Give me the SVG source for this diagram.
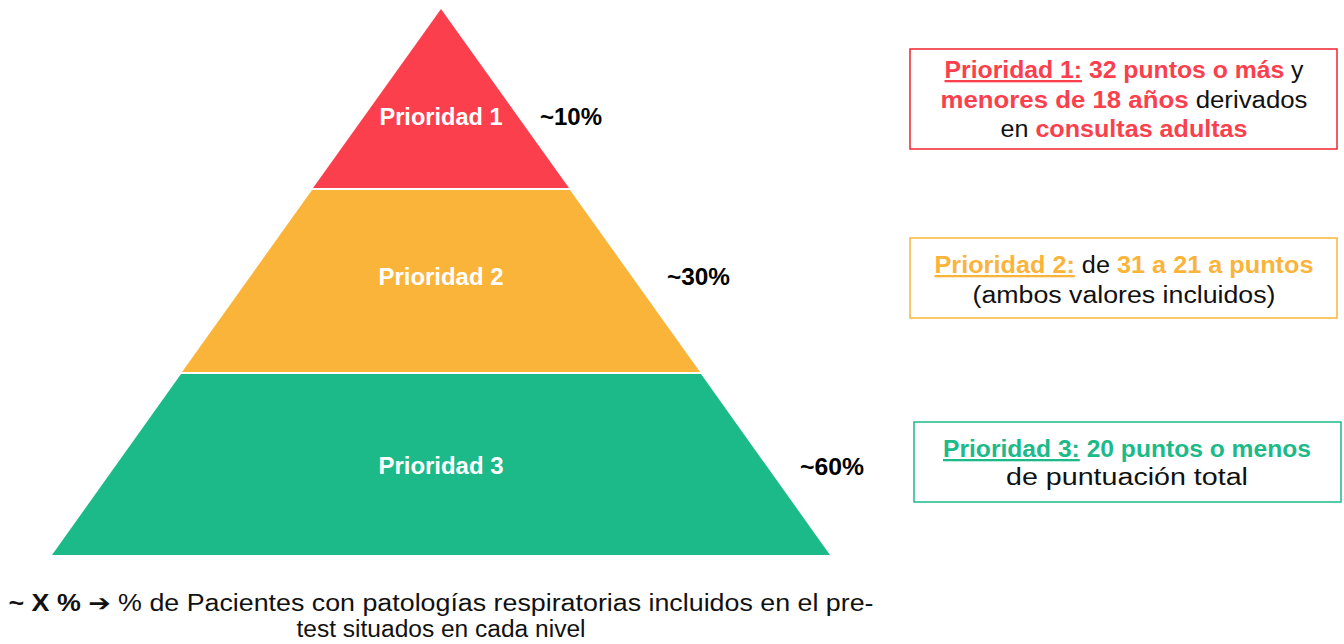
<svg xmlns="http://www.w3.org/2000/svg" width="1344" height="644" viewBox="0 0 1344 644">
<style>
text{font-family:"Liberation Sans",Arial,sans-serif;}
.lvl{fill:#fff;font-weight:bold;font-size:23px;text-anchor:middle;}
.pct{fill:#000;font-weight:bold;font-size:23px;}
.bt{font-size:23px;text-anchor:middle;fill:#111;}
.b{font-weight:bold;}
.u{text-decoration:underline;}
.red{fill:#FC3F4D;}
.org{fill:#FBB43A;}
.grn{fill:#1BBA88;}
.cap{font-size:23px;text-anchor:middle;fill:#111;}
.arr{font-family:"DejaVu Sans",sans-serif;font-weight:bold;}
</style>
<rect width="1344" height="644" fill="#fff"/>
<g id="level1">
<polygon points="441,9 569,188 313,188" fill="#FC3F4D"/>
<text class="lvl" x="441" y="125" textLength="123" lengthAdjust="spacingAndGlyphs">Prioridad 1</text>
<text class="pct" x="540" y="125" textLength="62" lengthAdjust="spacingAndGlyphs">~10%</text>
</g>
<g id="level2">
<polygon points="312,190 570,190 700,372 182,372" fill="#FBB43A"/>
<text class="lvl" x="441" y="285" textLength="125" lengthAdjust="spacingAndGlyphs">Prioridad 2</text>
<text class="pct" x="667" y="285" textLength="63" lengthAdjust="spacingAndGlyphs">~30%</text>
</g>
<g id="level3">
<polygon points="181,374 701,374 830,555 52,555" fill="#1BBA88"/>
<text class="lvl" x="441" y="474" textLength="125" lengthAdjust="spacingAndGlyphs">Prioridad 3</text>
<text class="pct" x="800" y="475" textLength="64" lengthAdjust="spacingAndGlyphs">~60%</text>
</g>
<g id="box1">
<rect x="910" y="49" width="427" height="100" fill="#fff" stroke="#F0252F" stroke-width="1.5"/>
<text class="bt" x="1124" y="78" textLength="359" lengthAdjust="spacingAndGlyphs"><tspan class="b red u">Prioridad 1:</tspan><tspan class="b red"> 32 puntos o más</tspan> y</text>
<text class="bt" x="1124" y="108" textLength="367" lengthAdjust="spacingAndGlyphs"><tspan class="b red">menores de 18 años</tspan> derivados</text>
<text class="bt" x="1124" y="137" textLength="247" lengthAdjust="spacingAndGlyphs">en <tspan class="b red">consultas adultas</tspan></text>
</g>
<g id="box2">
<rect x="910" y="238" width="427" height="80" fill="#fff" stroke="#FBB43A" stroke-width="1.5"/>
<text class="bt" x="1124" y="273" textLength="379" lengthAdjust="spacingAndGlyphs"><tspan class="b org u">Prioridad 2:</tspan> de <tspan class="b org">31 a 21 a puntos</tspan></text>
<text class="bt" x="1124" y="303" textLength="303" lengthAdjust="spacingAndGlyphs">(ambos valores incluidos)</text>
</g>
<g id="box3">
<rect x="914" y="422" width="427" height="80" fill="#fff" stroke="#1BBA88" stroke-width="1.5"/>
<text class="bt" x="1127" y="457" textLength="368" lengthAdjust="spacingAndGlyphs"><tspan class="b grn u">Prioridad 3:</tspan><tspan class="b grn"> 20 puntos o menos</tspan></text>
<text class="bt" x="1127" y="485" textLength="242" lengthAdjust="spacingAndGlyphs">de puntuación total</text>
</g>
<g id="connectors"></g>
<g id="caption">
<text class="cap" x="441" y="611" textLength="865" lengthAdjust="spacingAndGlyphs"><tspan class="b">~ X % </tspan><tspan class="arr">➔</tspan> % de Pacientes con patologías respiratorias incluidos en el pre-</text>
<text class="cap" x="441" y="637" textLength="289" lengthAdjust="spacingAndGlyphs">test situados en cada nivel</text>
</g>
</svg>
